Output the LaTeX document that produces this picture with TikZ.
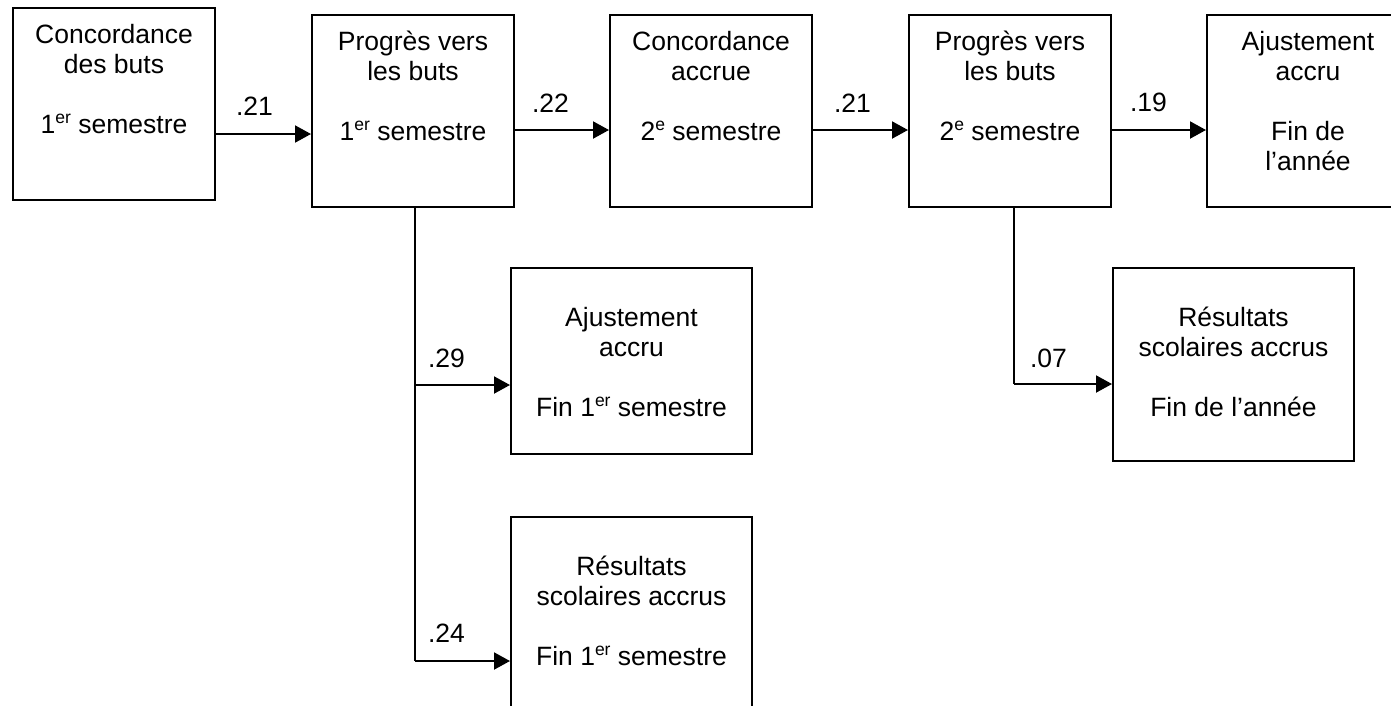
\documentclass[tikz,border=0pt]{standalone}
\usepackage{fontspec}
\setmainfont{Liberation Sans}
\usetikzlibrary{arrows.meta,calc}
\newcommand{\supx}[1]{\raisebox{10pt}{\fontsize{17.5}{17.5}\selectfont #1}}
\tikzset{
  box/.style={draw, line width=2pt, rectangle, anchor=north west, inner sep=0pt},
  bigbox/.style={box, minimum width=202pt, minimum height=192pt},
  wbox/.style={box, minimum width=241pt},
  txt/.style={anchor=north, align=center, inner sep=0pt, font=\fontsize{26.5}{30}\selectfont},
  lbl/.style={anchor=base west, inner sep=0pt, font=\fontsize{26.5}{30}\selectfont},
  link/.style={line width=2pt},
  arr/.style={link, -{Triangle[length=16pt,width=17pt]}}
}
\begin{document}
\begin{tikzpicture}[x=1pt,y=-1pt]
\clip (0,0) rectangle (1391,705);
\useasboundingbox (0,0) rectangle (1391,705);
% boxes
\node[bigbox] (b1) at (12,7) {};
\node[bigbox] (b2) at (311,14) {};
\node[bigbox] (b3) at (609,14) {};
\node[bigbox] (b4) at (908,14) {};
\node[bigbox] (b5) at (1206,14) {};
\node[wbox, minimum height=186pt] (b6) at (510,267) {};
\node[wbox, minimum height=200pt] (b7) at (510,516) {};
\node[wbox, minimum height=193pt] (b8) at (1112,267) {};
% texts
\node[txt] (t1) at ($(b1.north)+(0,15)$) {\strut Concordance\\des buts\\[30pt]1\supx{er} semestre};
\node[txt] (t2) at ($(b2.north)+(0,15)$) {\strut Progrès vers\\les buts\\[30pt]1\supx{er} semestre};
\node[txt] (t3) at ($(b3.north)+(0,15)$) {\strut Concordance\\accrue\\[30pt]2\supx{e} semestre};
\node[txt] (t4) at ($(b4.north)+(0,15)$) {\strut Progrès vers\\les buts\\[30pt]2\supx{e} semestre};
\node[txt] (t5) at ($(b5.north)+(0,15)$) {\strut Ajustement\\accru\\[30pt]Fin de\\l’année};
\node[txt] (t6) at ($(b6.north)+(0,38)$) {\strut Ajustement\\accru\\[30pt]Fin 1\supx{er} semestre};
\node[txt] (t7) at ($(b7.north)+(0,38)$) {\strut Résultats\\scolaires accrus\\[30pt]Fin 1\supx{er} semestre};
\node[txt] (t8) at ($(b8.north)+(0,38)$) {\strut Résultats\\scolaires accrus\\[30pt]Fin de l’année};
% horizontal arrows
\draw[arr] (b1.east |- 0,134) -- node[lbl, pos=0, xshift=19pt, yshift=19pt] (l1) {.21} (b2.west |- 0,134);
\draw[arr] (b2.east |- 0,130) -- node[lbl, pos=0, xshift=16pt, yshift=18pt] (l2) {.22} (b3.west |- 0,130);
\draw[arr] (b3.east |- 0,130) -- node[lbl, pos=0, xshift=20pt, yshift=18pt] (l3) {.21} (b4.west |- 0,130);
\draw[arr] (b4.east |- 0,130) -- node[lbl, pos=0, xshift=17pt, yshift=19pt] (l4) {.19} (b5.west |- 0,130);
% branches from b2
\coordinate (j1) at ($(b2.south)+(2,0)$);
\draw[link] (j1) -- (j1 |- 0,661);
\draw[arr] (j1 |- 0,385) -- node[lbl, pos=0, xshift=12pt, yshift=18pt] (l5) {.29} (b6.west |- 0,385);
\draw[arr] (j1 |- 0,661) -- node[lbl, pos=0, xshift=12pt, yshift=19pt] (l6) {.24} (b7.west |- 0,661);
% branch from b4
\coordinate (j2) at ($(b4.south)+(4,0)$);
\draw[link] (j2) -- (j2 |- 0,384);
\draw[arr] (j2 |- 0,384) -- node[lbl, pos=0, xshift=15pt, yshift=17pt] (l7) {.07} (b8.west |- 0,384);
\end{tikzpicture}
\end{document}
